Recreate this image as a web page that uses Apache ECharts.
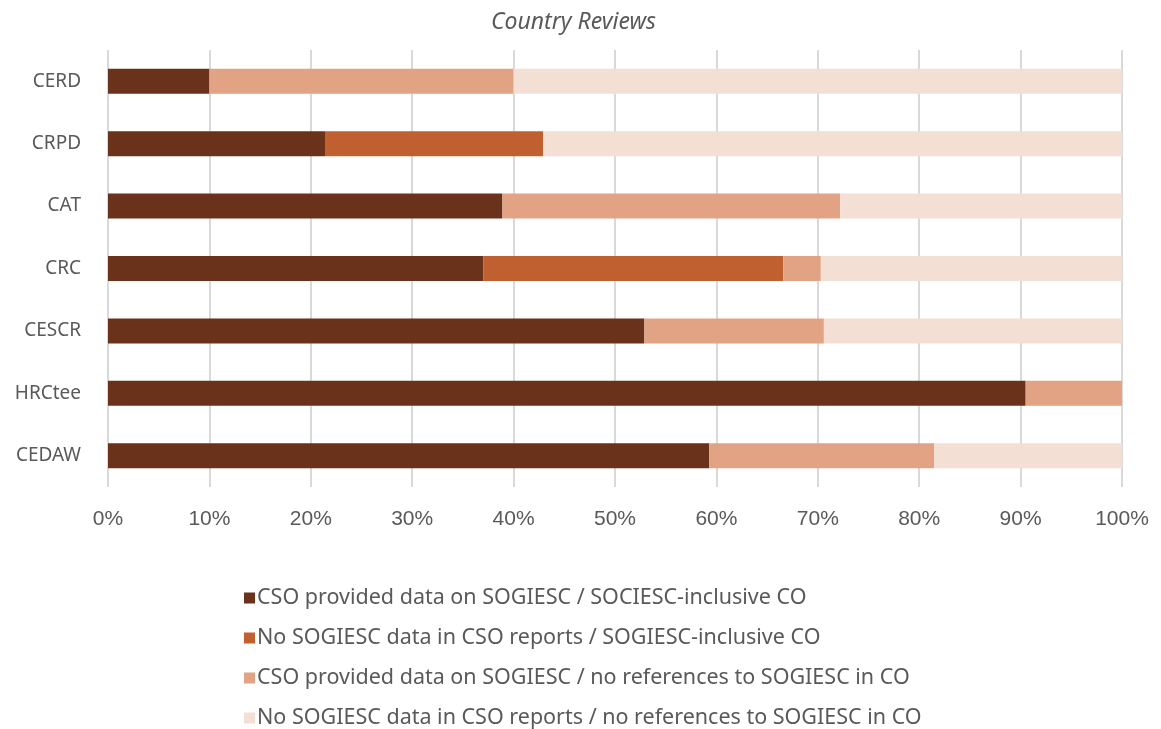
<!DOCTYPE html>
<html>
<head>
<meta charset="utf-8">
<script src="https://cdn.jsdelivr.net/npm/echarts@6/dist/echarts.min.js"></script>
<style>
  html, body { margin: 0; padding: 0; background: #fff; }
  #chart { width: 1161px; height: 729px; }
</style>
</head>
<body>
<div id="chart"></div>
<script>
  // categories, bottom to top
  var categories = ['CEDAW', 'HRCtee', 'CESCR', 'CRC', 'CAT', 'CRPD', 'CERD']
  var seriesNames = [
    'CSO provided data on SOGIESC / SOCIESC-inclusive CO',
    'No SOGIESC data in CSO reports / SOGIESC-inclusive CO',
    'CSO provided data on SOGIESC / no references to SOGIESC in CO',
    'No SOGIESC data in CSO reports / no references to SOGIESC in CO'
  ]
  var csoInclusive = [59.3, 90.5, 52.9, 37.0, 38.9, 21.4, 10.0]
  var noDataInclusive = [0, 0, 0, 29.6, 0, 21.5, 0]
  var csoNoRef = [22.2, 9.5, 17.7, 3.7, 33.3, 0, 30.0]
  var noDataNoRef = [18.5, 0, 29.4, 29.7, 27.8, 57.1, 60.0]
  var colors = ['#6a321a', '#c05f2f', '#e2a385', '#f4dfd4']

  var chart = echarts.init(document.getElementById('chart'))
  var values = [csoInclusive, noDataInclusive, csoNoRef, noDataNoRef]

  chart.setOption({
    animation: false,
    color: colors,
    title: {
      text: 'Country Reviews',
      left: 486,
      top: 6,
      textStyle: {
        fontFamily: 'Noto Sans',
        fontStyle: 'italic',
        fontWeight: 'normal',
        fontSize: 23,
        color: '#595959'
      }
    },
    grid: {
      left: 108,
      right: 39,
      top: 50,
      bottom: 242
    },
    legend: {
      orient: 'vertical',
      left: 244,
      top: 587,
      height: 220,
      padding: 0,
      itemWidth: 11,
      itemHeight: 11,
      itemGap: 18,
      icon: 'rect',
      textStyle: {
        fontFamily: 'Noto Sans',
        fontSize: 21.5,
        color: '#595959',
        padding: [0, 0, 0, -3]
      },
      data: seriesNames
    },
    xAxis: {
      type: 'value',
      min: 0,
      max: 100,
      interval: 10,
      axisLine: { show: false },
      axisTick: { show: false },
      axisLabel: {
        formatter: '{value}%',
        fontFamily: 'Liberation Sans',
        fontSize: 21,
        color: '#595959',
        margin: 22
      },
      splitLine: { lineStyle: { color: '#d9d9d9', width: 2 } }
    },
    yAxis: {
      type: 'category',
      data: categories,
      axisLine: { show: false },
      axisTick: { show: false },
      axisLabel: {
        fontFamily: 'Noto Sans',
        fontSize: 19,
        color: '#595959',
        margin: 27
      }
    },
    series: seriesNames.map(function (name, i) {
      return {
        name: name,
        type: 'bar',
        stack: 'total',
        barWidth: 25,
        data: values[i]
      }
    })
  })
</script>
</body>
</html>
